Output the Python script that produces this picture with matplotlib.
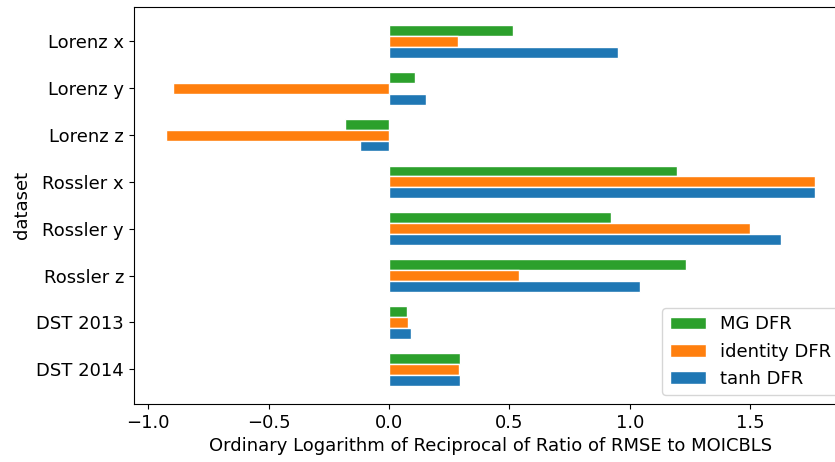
import numpy as np
import matplotlib.pyplot as plt

plt.rcParams.update({'font.size': 13})

datasets = ['Lorenz x', 'Lorenz y', 'Lorenz z', 'Rossler x', 'Rossler y',
            'Rossler z', 'DST 2013', 'DST 2014']

# log10(RMSE_MOICBLS / RMSE_model) for each reservoir
mg_dfr = [0.515, 0.107, -0.183, 1.198, 0.924, 1.235, 0.074, 0.294]
identity_dfr = [0.285, -0.896, -0.926, 1.770, 1.498, 0.539, 0.078, 0.291]
tanh_dfr = [0.950, 0.154, -0.120, 1.770, 1.630, 1.041, 0.091, 0.294]

y = np.arange(len(datasets))
h = 0.7 / 3

fig = plt.figure(figsize=(8.35, 4.62), dpi=100)
ax = fig.add_axes([0.16, 0.126, 0.855, 0.859])

ax.barh(y - h, mg_dfr, height=h, color='#2ca02c', edgecolor='white', linewidth=1, label='MG DFR')
ax.barh(y, identity_dfr, height=h, color='#ff7f0e', edgecolor='white', linewidth=1, label='identity DFR')
ax.barh(y + h, tanh_dfr, height=h, color='#1f77b4', edgecolor='white', linewidth=1, label='tanh DFR')

ax.set_yticks(y)
ax.set_yticklabels(datasets)
ax.invert_yaxis()
ax.set_xticks([-1.0, -0.5, 0.0, 0.5, 1.0, 1.5])

ax.set_ylabel('dataset')
ax.set_xlabel('Ordinary Logarithm of Reciprocal of Ratio of RMSE to MOICBLS')
ax.legend(loc='lower right')

plt.savefig('out.png', dpi=100)
